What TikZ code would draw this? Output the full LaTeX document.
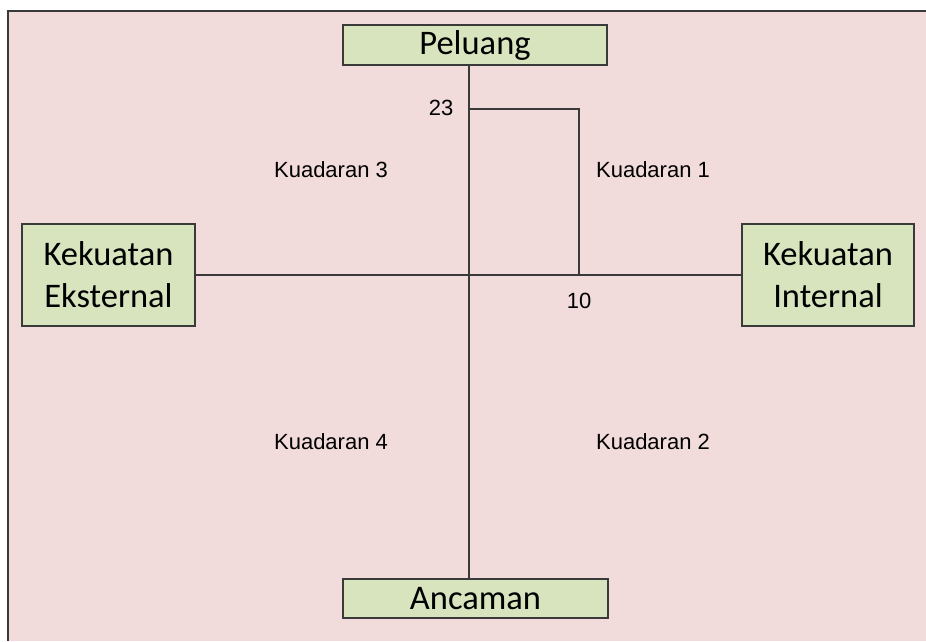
\documentclass[tikz,border=0pt]{standalone}
\usepackage{fontspec}
\setmainfont{Liberation Sans}
\newfontfamily\boxfont{Carlito}
\definecolor{bgpink}{HTML}{F2DCDB}
\definecolor{boxgreen}{HTML}{D7E4BD}
\definecolor{edge}{HTML}{3A3A3A}
\begin{document}
\begin{tikzpicture}[x=1pt,y=-1pt,
  greenbox/.style={draw=edge,line width=1.5pt,fill=boxgreen,inner sep=0pt,
    font=\boxfont\fontsize{34.5}{42}\selectfont,align=center},
  axis/.style={draw=edge,line width=1.2pt},
  lbl/.style={font=\fontsize{22}{26}\selectfont,inner sep=0pt}]
\useasboundingbox (0,0) rectangle (926,641);
\fill[bgpink] (8,11) rectangle (926,641);
\draw[edge,line width=2pt] (8,641) -- (8,11) -- (926,11);
\node[greenbox,minimum width=264pt,minimum height=40pt] (P) at (475,45) {Peluang};
\node[greenbox,minimum width=265pt,minimum height=39pt] (A) at (475.5,598.5) {Ancaman};
\node[greenbox,minimum width=173pt,minimum height=102pt] (KE) at (108.5,275) {Kekuatan\\Eksternal};
\node[greenbox,minimum width=172pt,minimum height=102pt] (KI) at (828,275) {Kekuatan\\Internal};
\coordinate (c) at (469,275);
\coordinate (b1) at (469,109);
\coordinate (b2) at (579,275);
\draw[axis] (c |- P.south) -- (c |- A.north);
\draw[axis] (KE.east) -- (KI.west);
\draw[axis] (b1) -| (b2);
\node[lbl] (n23) at (441,108) {23};
\node[lbl] (n10) at (579,301) {10};
\node[lbl] (q3) at (331,170) {Kuadaran 3};
\node[lbl] (q1) at (653,170) {Kuadaran 1};
\node[lbl] (q4) at (331,442) {Kuadaran 4};
\node[lbl] (q2) at (653,442) {Kuadaran 2};
\end{tikzpicture}
\end{document}
